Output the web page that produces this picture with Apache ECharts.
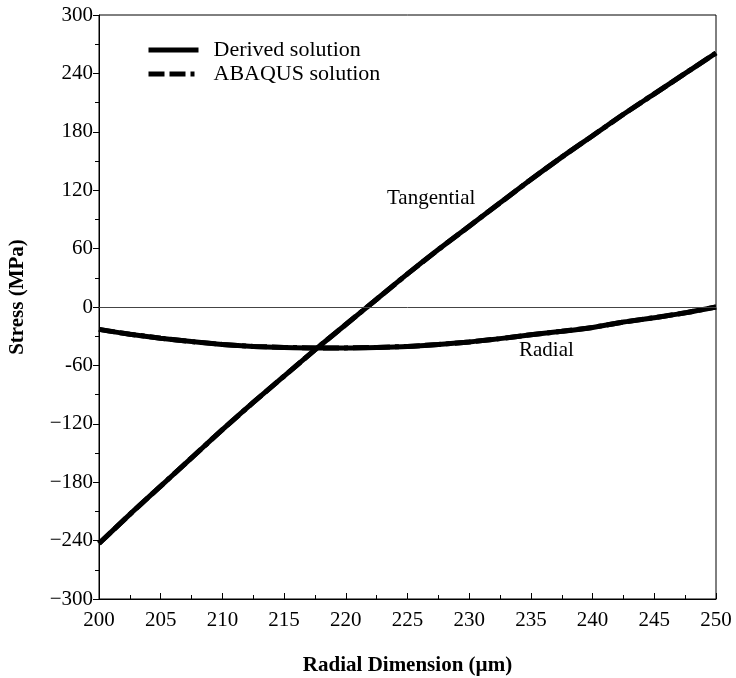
<!DOCTYPE html>
<html>
<head>
<meta charset="utf-8">
<script src="https://cdn.jsdelivr.net/npm/echarts@6/dist/echarts.min.js"></script>
<style>
html,body{margin:0;padding:0;background:#fff;}
#chart{width:736px;height:678px;}
</style>
</head>
<body>
<div id="chart"></div>
<script>
// Radial position (µm)
const radius = [200, 202.5, 205, 207.5, 210, 212.5, 215, 217.5, 220, 222.5, 225,
                227.5, 230, 232.5, 235, 237.5, 240, 242.5, 245, 247.5, 250];
// Tangential stress (MPa), derived solution
const tangentialDerived = [-243, -213, -184, -155, -126, -98, -71, -44, -18, 8, 34,
                           59, 83, 107, 131, 154, 176, 198, 219, 240, 261];
// Radial stress (MPa), derived solution
const radialDerived = [-23, -28, -32, -35.5, -38.5, -40.5, -41.5, -42, -42, -41.5, -40.5,
                       -38.5, -36, -32.5, -28.5, -25, -21, -15.5, -11, -6, 0];
// ABAQUS solution (coincides with the derived solution)
const tangentialAbaqus = [-243, -213, -184, -155, -126, -98, -71, -44, -18, 8, 34,
                          59, 83, 107, 131, 154, 176, 198, 219, 240, 261];
const radialAbaqus = [-23, -28, -32, -35.5, -38.5, -40.5, -41.5, -42, -42, -41.5, -40.5,
                      -38.5, -36, -32.5, -28.5, -25, -21, -15.5, -11, -6, 0];
const seriesNames = ['Derived solution', 'ABAQUS solution'];
const curveLabels = ['Tangential', 'Radial'];

const pair = (xs, ys) => xs.map((x, i) => [x, ys[i]]);
const FONT = 'Liberation Serif';
const DASH = [16, 5, 16, 5, 4, 5];
const solid = {color: '#000', width: 5, type: 'solid'};
const dashed = {color: '#000', width: 5, type: DASH};

const chart = echarts.init(document.getElementById('chart'));
chart.setOption({
  animation: false,
  backgroundColor: '#fff',
  grid: {left: 99, right: 20, top: 15, bottom: 79, outerBoundsMode: 'none', containLabel: false,
         show: true, borderColor: '#000', borderWidth: 1, backgroundColor: 'transparent'},
  legend: {
    orient: 'vertical', left: 141, top: 34, itemWidth: 50, itemHeight: 14, itemGap: 2,
    textStyle: {fontFamily: FONT, fontSize: 22, color: '#000', padding: [0, 0, 0, 10]},
    data: [
      {name: seriesNames[0], itemStyle: {opacity: 0}, lineStyle: {color: '#000', width: 5, type: 'solid'}},
      {name: seriesNames[1], itemStyle: {opacity: 0}, lineStyle: {color: '#000', width: 5, type: DASH}}
    ]
  },
  xAxis: {
    type: 'value', min: 200, max: 250, interval: 5,
    name: 'Radial Dimension (\u00b5m)', nameLocation: 'middle', nameGap: 56,
    nameTextStyle: {fontFamily: FONT, fontSize: 21, fontWeight: 'bold', color: '#000'},
    axisLine: {show: true, onZero: false, lineStyle: {color: '#000', width: 1}},
    axisTick: {show: true, inside: true, length: 6, lineStyle: {color: '#000'}},
    minorTick: {show: true, splitNumber: 2, length: 4, lineStyle: {color: '#000'}},
    axisLabel: {fontFamily: FONT, fontSize: 21, color: '#000', margin: 11},
    splitLine: {show: false}
  },
  yAxis: {
    type: 'value', min: -300, max: 300, interval: 60,
    name: 'Stress (MPa)', nameLocation: 'middle', nameGap: 71, nameRotate: 90,
    nameTextStyle: {fontFamily: FONT, fontSize: 21, fontWeight: 'bold', color: '#000', padding: [0, 0, 0, 20]},
    axisLine: {show: true, onZero: false, lineStyle: {color: '#000', width: 1}},
    axisTick: {show: true, length: 6, lineStyle: {color: '#000'}},
    minorTick: {show: true, splitNumber: 2, length: 4, lineStyle: {color: '#000'}},
    axisLabel: {
      fontFamily: FONT, fontSize: 21, color: '#000', margin: 6,
      formatter: v => v === -60 ? '-60' : (v < 0 ? '\u2212' + Math.abs(v) : String(v))
    },
    splitLine: {show: false}
  },
  series: [
    {
      name: seriesNames[1], type: 'line', symbol: 'none', lineStyle: dashed,
      itemStyle: {color: '#000'}, data: pair(radius, tangentialAbaqus), z: 2
    },
    {
      name: seriesNames[1], type: 'line', symbol: 'none', lineStyle: dashed,
      itemStyle: {color: '#000'}, data: pair(radius, radialAbaqus), z: 2
    },
    {
      name: seriesNames[0], type: 'line', symbol: 'none', smooth: 0.3, lineStyle: solid,
      itemStyle: {color: '#000'}, data: pair(radius, tangentialDerived), z: 3,
      markLine: {
        silent: true, symbol: 'none', label: {show: false},
        lineStyle: {color: '#444', width: 1, type: 'solid'},
        data: [{yAxis: 0}]
      }
    },
    {
      name: seriesNames[0], type: 'line', symbol: 'none', smooth: 0.3, lineStyle: solid,
      itemStyle: {color: '#000'}, data: pair(radius, radialDerived), z: 3
    }
  ],
  graphic: [
    {type: 'text', left: 387, top: 188, style: {text: curveLabels[0], font: '21px "Liberation Serif"', fill: '#000'}},
    {type: 'text', left: 519, top: 340, style: {text: curveLabels[1], font: '21px "Liberation Serif"', fill: '#000'}}
  ]
});
</script>
</body>
</html>
